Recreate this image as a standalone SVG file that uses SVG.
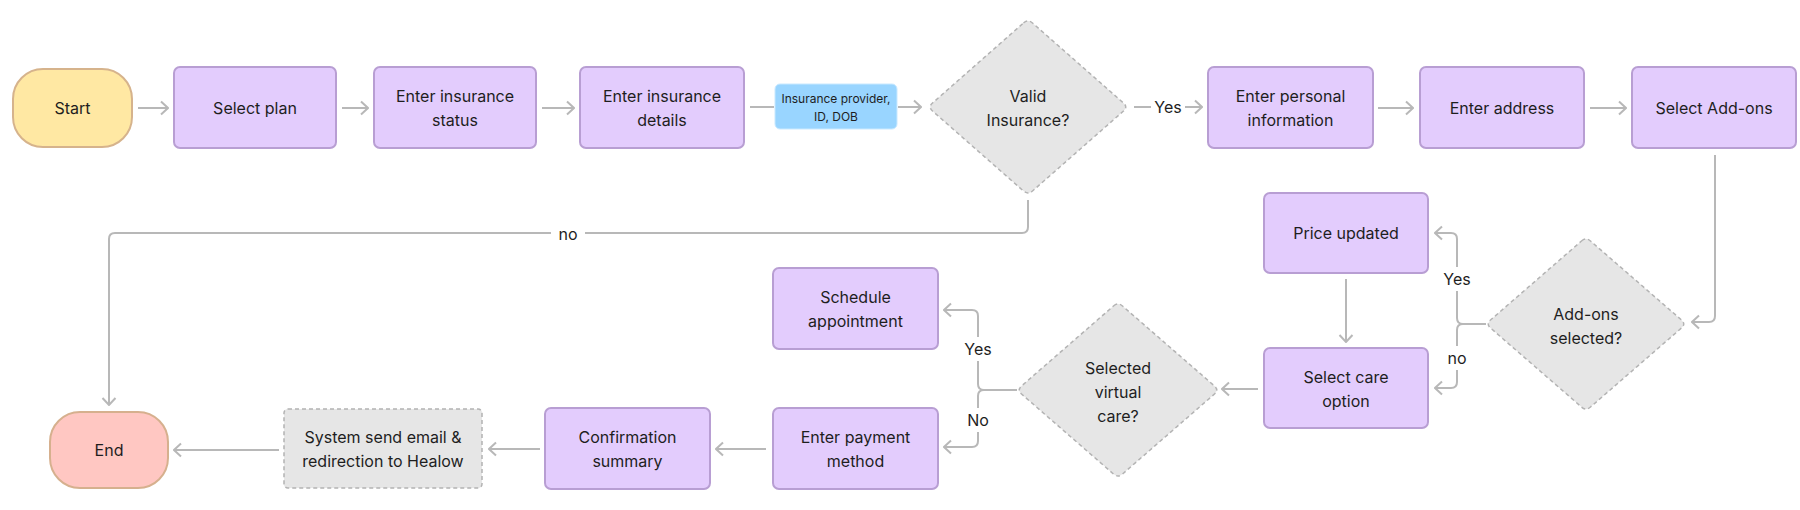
<svg xmlns="http://www.w3.org/2000/svg" width="1800" height="510" viewBox="0 0 1800 510">
<defs>
<style>
.t{font-family:Inter,"Liberation Sans",sans-serif;font-size:16px;fill:#1E1E1E;text-anchor:middle;dominant-baseline:central}
.s{font-size:12px}
.p{fill:#E3CCFD;stroke:#B89ED3;stroke-width:2}
.d{fill:#E6E6E6;stroke:#B3B3B3;stroke-width:1.5;stroke-dasharray:4 3;stroke-linejoin:round}
.c{fill:none;stroke:#B8B8B8;stroke-width:2}
.a{marker-end:url(#ah)}
.lb{fill:#FFFFFF}
</style>
<marker id="ah" viewBox="0 0 10 16" markerWidth="10" markerHeight="16" refX="9" refY="8" orient="auto" markerUnits="userSpaceOnUse">
<path d="M2,1.5 L9,8 L2,14.5" fill="none" stroke="#B8B8B8" stroke-width="2"/>
</marker>
</defs>
<rect width="1800" height="510" fill="#FFFFFF"/>

<g id="connectors">
<path class="c a" d="M138,108 H168"/>
<path class="c a" d="M342,108 H368"/>
<path class="c a" d="M542,108 H574"/>
<path class="c" d="M750,107 H774"/>
<path class="c a" d="M898,107 H921"/>
<path class="c a" d="M1134,107 H1202"/>
<rect class="lb" x="1151" y="96" width="34" height="22"/>
<text class="t" x="1168" y="107">Yes</text>
<path class="c a" d="M1378,108 H1413"/>
<path class="c a" d="M1590,108 H1626"/>
<path class="c a" d="M1715,155 V316 Q1715,322 1709,322 H1692"/>
<path class="c a" d="M1486,324 H1463 Q1457,324 1457,318 V239 Q1457,233 1451,233 H1435"/>
<path class="c a" d="M1486,324 H1463 Q1457,324 1457,330 V382 Q1457,388 1451,388 H1435"/>
<rect class="lb" x="1440" y="267" width="34" height="24"/>
<text class="t" x="1457" y="279">Yes</text>
<rect class="lb" x="1443" y="346" width="28" height="24"/>
<text class="t" x="1457" y="358">no</text>
<path class="c a" d="M1346,279 V342"/>
<path class="c a" d="M1258,389 H1222"/>
<path class="c a" d="M1017,390 H984 Q978,390 978,384 V316 Q978,310 972,310 H944"/>
<path class="c a" d="M1017,390 H984 Q978,390 978,396 V441 Q978,447 972,447 H944"/>
<rect class="lb" x="961" y="337" width="34" height="24"/>
<text class="t" x="978" y="349">Yes</text>
<rect class="lb" x="964" y="408" width="28" height="24"/>
<text class="t" x="978" y="420">No</text>
<path class="c a" d="M766,449 H716"/>
<path class="c a" d="M540,449 H489"/>
<path class="c a" d="M279,450 H174"/>
<path class="c a" d="M1028,200 V227 Q1028,233 1022,233 H115 Q109,233 109,239 V405"/>
<rect class="lb" x="551" y="222" width="34" height="24"/>
<text class="t" x="568" y="234">no</text>
</g>

<g id="start">
<rect x="13" y="69" width="119" height="78" rx="30" fill="#FFE8A3" stroke="#D6B38C" stroke-width="2"/>
<text class="t" x="72.5" y="108">Start</text>
</g>
<g id="select-plan">
<rect class="p" x="174" y="67" width="162" height="81" rx="6"/>
<text class="t" x="255" y="107.5">Select plan</text>
</g>
<g id="insurance-status">
<rect class="p" x="374" y="67" width="162" height="81" rx="6"/>
<text class="t" x="455" y="96">Enter insurance</text>
<text class="t" x="455" y="120">status</text>
</g>
<g id="insurance-details">
<rect class="p" x="580" y="67" width="164" height="81" rx="6"/>
<text class="t" x="662" y="96">Enter insurance</text>
<text class="t" x="662" y="120">details</text>
</g>
<g id="insurance-info">
<rect x="775" y="84" width="122" height="45" rx="5" fill="#99D5FF" stroke="#C9E9FF" stroke-width="1"/>
<text class="t s" x="836" y="98.5">Insurance provider,</text>
<text class="t s" x="836" y="116.5">ID, DOB</text>
</g>
<g id="valid-insurance">
<path class="d" d="M1023.5,23 Q1028,19 1032.5,23 L1123.5,103 Q1128,107 1123.5,111 L1032.5,191 Q1028,195 1023.5,191 L932.5,111 Q928,107 932.5,103 Z"/>
<text class="t" x="1028" y="96">Valid</text>
<text class="t" x="1028" y="120">Insurance?</text>
</g>
<g id="personal-info">
<rect class="p" x="1208" y="67" width="165" height="81" rx="6"/>
<text class="t" x="1290.5" y="96">Enter personal</text>
<text class="t" x="1290.5" y="120">information</text>
</g>
<g id="address">
<rect class="p" x="1420" y="67" width="164" height="81" rx="6"/>
<text class="t" x="1502" y="107.5">Enter address</text>
</g>
<g id="addons">
<rect class="p" x="1632" y="67" width="164" height="81" rx="6"/>
<text class="t" x="1714" y="107.5">Select Add-ons</text>
</g>
<g id="addons-selected">
<path class="d" d="M1581.5,241 Q1586,237 1590.5,241 L1681.5,320 Q1686,324 1681.5,328 L1590.5,407 Q1586,411 1581.5,407 L1490.5,328 Q1486,324 1490.5,320 Z"/>
<text class="t" x="1586" y="314">Add-ons</text>
<text class="t" x="1586" y="338">selected?</text>
</g>
<g id="price-updated">
<rect class="p" x="1264" y="193" width="164" height="80" rx="6"/>
<text class="t" x="1346" y="233">Price updated</text>
</g>
<g id="care-option">
<rect class="p" x="1264" y="348" width="164" height="80" rx="6"/>
<text class="t" x="1346" y="377">Select care</text>
<text class="t" x="1346" y="401">option</text>
</g>
<g id="virtual-care">
<path class="d" d="M1113.5,306 Q1118,302 1122.5,306 L1214.5,386 Q1219,390 1214.5,394 L1122.5,474 Q1118,478 1113.5,474 L1021.5,394 Q1017,390 1021.5,386 Z"/>
<text class="t" x="1118" y="368">Selected</text>
<text class="t" x="1118" y="392">virtual</text>
<text class="t" x="1118" y="416">care?</text>
</g>
<g id="schedule">
<rect class="p" x="773" y="268" width="165" height="81" rx="6"/>
<text class="t" x="855.5" y="297">Schedule</text>
<text class="t" x="855.5" y="321">appointment</text>
</g>
<g id="payment">
<rect class="p" x="773" y="408" width="165" height="81" rx="6"/>
<text class="t" x="855.5" y="437">Enter payment</text>
<text class="t" x="855.5" y="461">method</text>
</g>
<g id="confirmation">
<rect class="p" x="545" y="408" width="165" height="81" rx="6"/>
<text class="t" x="627.5" y="437">Confirmation</text>
<text class="t" x="627.5" y="461">summary</text>
</g>
<g id="system-email">
<rect class="d" x="284" y="409" width="198" height="79" rx="4"/>
<text class="t" x="383" y="437">System send email &amp;</text>
<text class="t" x="383" y="461">redirection to Healow</text>
</g>
<g id="end">
<rect x="50" y="412" width="118" height="76" rx="30" fill="#FFC7C2" stroke="#D6B08E" stroke-width="2"/>
<text class="t" x="109" y="450">End</text>
</g>
</svg>
